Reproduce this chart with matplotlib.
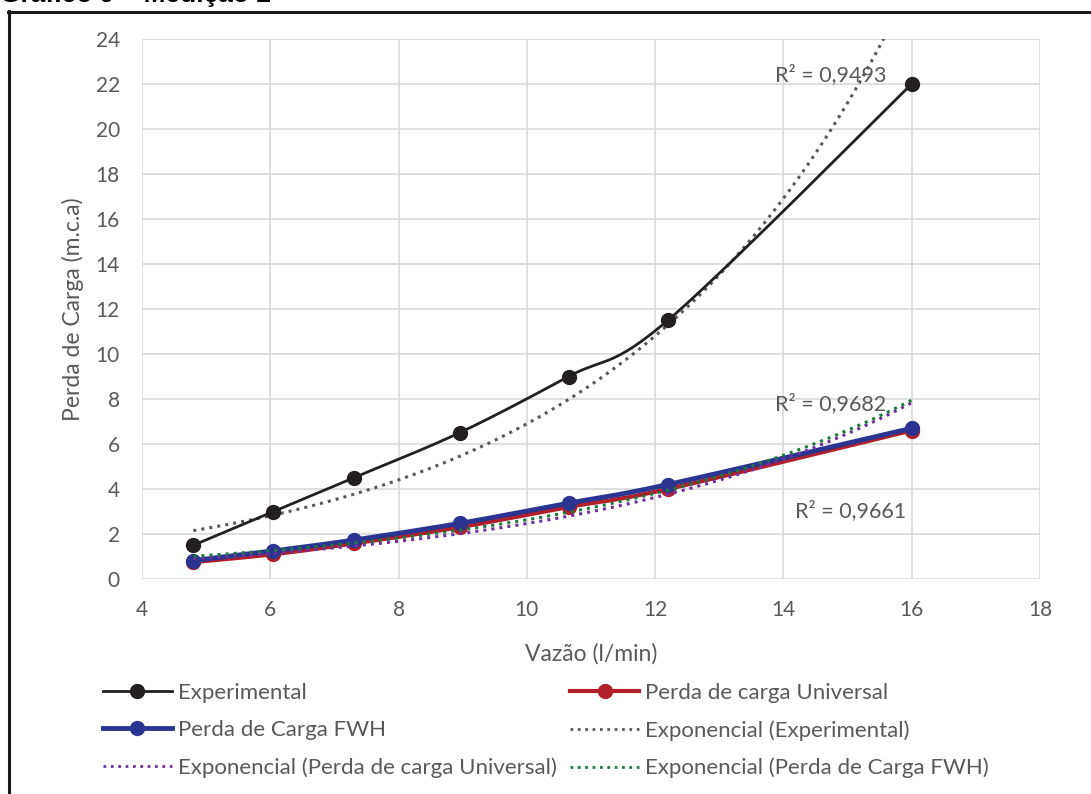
import numpy as np
import matplotlib
matplotlib.use("Agg")
import matplotlib.pyplot as plt
from matplotlib.lines import Line2D

plt.rcParams['font.family'] = ['Lato', 'DejaVu Sans']

# dados
vazao = [4.8, 6.05, 7.3, 8.95, 10.65, 12.2, 16.0]
experimental = [1.5, 3.0, 4.5, 6.5, 9.0, 11.5, 22.0]
universal = [0.75, 1.1, 1.58, 2.3, 3.2, 4.0, 6.6]
fwh = [0.82, 1.25, 1.73, 2.47, 3.37, 4.2, 6.7]

r2_labels = ['R² = 0,9493', 'R² = 0,9682', 'R² = 0,9661']

cinza = '#595959'
c_exp = '#231f20'
c_uni = '#b01f2a'
c_fwh = '#2b3591'
c_roxo = '#7030a0'
c_verde = '#1e7a3c'


def suave(x, y, sx=14.0, sy=24.0, ar=540 / 898, n=30):
    # curva suavizada (Catmull-Rom) como no Excel
    px = np.asarray(x) / sx
    py = np.asarray(y) / sy * ar
    P = np.column_stack([px, py])
    P = np.vstack([P[0], P, P[-1]])
    out = []
    t = np.linspace(0, 1, n)[:, None]
    for i in range(1, len(P) - 2):
        p0, p1, p2, p3 = P[i - 1], P[i], P[i + 1], P[i + 2]
        c1 = p1 + (p2 - p0) / 6
        c2 = p2 - (p3 - p1) / 6
        seg = ((1 - t) ** 3 * p1 + 3 * (1 - t) ** 2 * t * c1
               + 3 * (1 - t) * t ** 2 * c2 + t ** 3 * p2)
        out.append(seg)
    out = np.vstack(out)
    return out[:, 0] * sx, out[:, 1] / ar * sy


def tendencia(x, y):
    b, lna = np.polyfit(x, np.log(y), 1)
    xx = np.linspace(min(x), max(x), 200)
    return xx, np.exp(lna) * np.exp(b * xx)


fig = plt.figure(figsize=(10.91, 7.94), dpi=100)
ax = fig.add_axes([142 / 1091, 1 - 579 / 794, 898 / 1091, 540 / 794])

# séries
xs, ys = suave(vazao, experimental)
ax.plot(xs, ys, color=c_exp, lw=2, zorder=5)
ax.plot(vazao, experimental, 'o', color=c_exp, ms=10, zorder=6)

xs, ys = suave(vazao, universal)
ax.plot(xs, ys, color=c_uni, lw=3, zorder=3)
ax.plot(vazao, universal, 'o', color=c_uni, ms=10, zorder=3)

xs, ys = suave(vazao, fwh)
ax.plot(xs, ys, color=c_fwh, lw=3.5, zorder=4)
ax.plot(vazao, fwh, 'o', color=c_fwh, ms=10, zorder=4)

# linhas de tendência exponenciais
xx, yy = tendencia(vazao, experimental)
ax.plot(xx, yy, ':', color=cinza, lw=2.2, zorder=4)
xx, yy = tendencia(vazao, universal)
ax.plot(xx, yy, ':', color=c_roxo, lw=2.2, zorder=5)
xx, yy = tendencia(vazao, fwh)
ax.plot(xx, yy, ':', color=c_verde, lw=2.2, zorder=5)

ax.text(14.73, 22.4, r2_labels[0], color=cinza, fontsize=15.5, ha='center', va='center', zorder=7)
ax.text(14.73, 7.8, r2_labels[1], color=cinza, fontsize=15.5, ha='center', va='center', zorder=7)
ax.text(15.04, 3.02, r2_labels[2], color=cinza, fontsize=15.5, ha='center', va='center', zorder=7)

ax.set_xlim(4, 18)
ax.set_ylim(0, 24)
ax.set_xticks(range(4, 19, 2))
ax.set_yticks(range(0, 25, 2))
ax.grid(True, color='#d9d9d9', lw=1.2)
ax.set_axisbelow(True)
for s in ax.spines.values():
    s.set_visible(False)
ax.tick_params(length=0, labelsize=15, labelcolor=cinza, pad=15)
ax.tick_params(axis='y', pad=16)
ax.set_xlabel('Vazão (l/min)', fontsize=16.5, color=cinza, labelpad=17)
ax.set_ylabel('Perda de Carga (m.c.a)', fontsize=16.5, color=cinza, labelpad=8)

# legenda
h_exp = Line2D([], [], color=c_exp, lw=2, marker='o', ms=10)
h_uni = Line2D([], [], color=c_uni, lw=3, marker='o', ms=10)
h_fwh = Line2D([], [], color=c_fwh, lw=3.5, marker='o', ms=10)
h_te = Line2D([], [], color=cinza, lw=2, ls=':')
h_tu = Line2D([], [], color=c_roxo, lw=2, ls=':')
h_tf = Line2D([], [], color=c_verde, lw=2, ls=':')
handles = [h_exp, h_fwh, h_tu, h_uni, h_te, h_tf]
labels = ['Experimental', 'Perda de Carga FWH', 'Exponencial (Perda de carga Universal)',
          'Perda de carga Universal', 'Exponencial (Experimental)', 'Exponencial (Perda de Carga FWH)']
leg = fig.legend(handles, labels, ncol=2, loc='upper left', bbox_to_anchor=(103 / 1091, 1 - 683 / 794),
                 frameon=False, fontsize=16, handlelength=3.1, handletextpad=0.27,
                 columnspacing=0.6, labelspacing=0.77, borderpad=0, borderaxespad=0)
for t in leg.get_texts():
    t.set_color(cinza)

# título cortado e moldura
fig.text(0.0, 1 - 2 / 794, 'Gráfico 9 – Medição 2', fontsize=19, fontweight='bold',
         family='Liberation Sans', ha='left', va='baseline')
fig.add_artist(Line2D([8.5 / 1091, 8.5 / 1091], [0, 1 - 11 / 794], color='#1a1a1a', lw=2.2,
                      transform=fig.transFigure))
fig.add_artist(Line2D([7.5 / 1091, 1], [1 - 12 / 794, 1 - 12 / 794], color='#1a1a1a', lw=2.2,
                      transform=fig.transFigure))

fig.savefig('out.png', dpi=100)
